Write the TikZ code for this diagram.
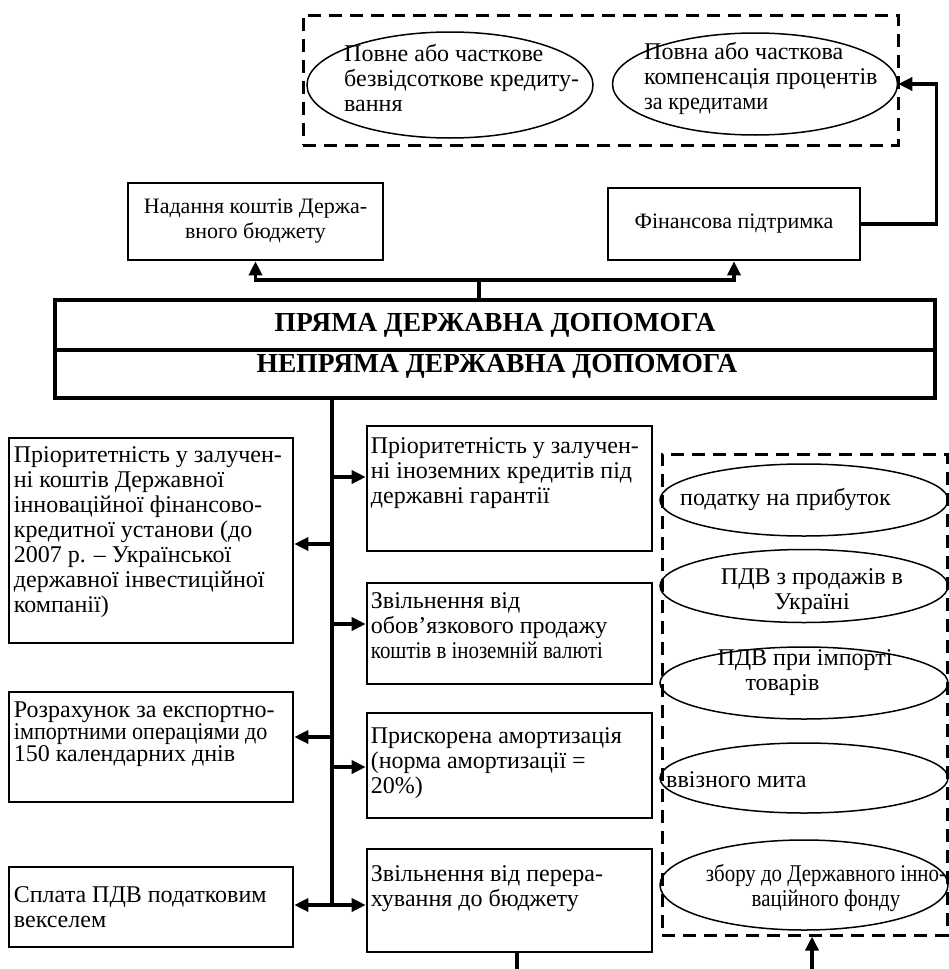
\documentclass[tikz,border=0pt]{standalone}
\usepackage{fontspec}
\setmainfont{Liberation Serif}
\usepackage{graphicx}
\usetikzlibrary{arrows.meta,shapes.geometric}
\newcommand{\cnd}[2][0.87]{\scalebox{#1}[1]{#2}}
\begin{document}
\begin{tikzpicture}[x=1pt,y=-1pt,
  box/.style={draw, line width=2.6pt, inner sep=0pt},
  grp/.style={draw, line width=3pt, dash pattern=on 13pt off 8pt},
  oval/.style={draw, ellipse, line width=1.5pt},
  txt/.style={align=left, inner sep=0pt, font=\fontsize{24}{25}\selectfont},
  hdr/.style={inner sep=0pt, font=\fontsize{27.5}{30}\selectfont\bfseries},
  conn/.style={line width=3.4pt},
  arr/.style={conn, -{Triangle[length=14pt,width=13pt]}},
  darr/.style={conn, {Triangle[length=14pt,width=13pt]}-{Triangle[length=14pt,width=13pt]}}]
  \useasboundingbox (0,0) rectangle (949,969);
  % forms of financial support
  \node[grp, minimum width=595pt, minimum height=130pt] (crgrp) at (600.5,80) {};
  \node[oval, minimum width=286pt, minimum height=106pt] (cred) at (450,85) {};
  \node[txt, anchor=west] (credt) at (344,78) {Повне або часткове\\безвідсоткове кредиту-\\вання};
  \node[oval, minimum width=285pt, minimum height=102pt] (comp) at (755,84) {};
  \node[txt, anchor=west] (compt) at (644,78) {Повна або часткова\\компенсація процентів\\\cnd[0.92]{за кредитами}};
  % direct support
  \node[box, txt, align=center, font=\fontsize{22}{25}\selectfont, minimum width=255pt, minimum height=77pt] (nad) at (255.5,221.5) {Надання коштів Держа-\\вного бюджету};
  \node[box, txt, align=center, font=\fontsize{22}{25}\selectfont, minimum width=252pt, minimum height=72pt] (fin) at (734,224) {Фінансова підтримка};
  % main block
  \node[box, hdr, line width=3.4pt, minimum width=880pt, minimum height=50pt] (pryama) at (495,325) {ПРЯМА ДЕРЖАВНА ДОПОМОГА};
  \node[box, line width=3.4pt, minimum width=880pt, minimum height=48pt] (nepryama) at (495,374) {};
  \node[hdr] (nepryamat) at (497,366) {НЕПРЯМА ДЕРЖАВНА ДОПОМОГА};
  % left column
  \node[box, minimum width=284pt, minimum height=205pt] (prior) at (151,540.5) {};
  \node[txt, anchor=north west] (priort) at ([shift={(6,10)}]prior.north west) {Пріоритетність у залучен-\\ні коштів Державної\\інноваційної фінансово-\\кредитної установи (до\\2007 р. – Української\\державної інвестиційної\\компанії)};
  \node[box, minimum width=284pt, minimum height=110pt] (rozr) at (151,747) {};
  \node[txt, anchor=north west, font=\fontsize{24}{22}\selectfont] (rozrt) at ([shift={(6,11)}]rozr.north west) {Розрахунок за експортно-\\\cnd[0.92]{імпортними операціями до}\\150 календарних днів};
  \node[box, minimum width=284pt, minimum height=80pt] (splata) at (151,907) {};
  \node[txt, anchor=west] (splatat) at ([xshift=6pt]splata.west) {Сплата ПДВ податковим\\векселем};
  % middle column
  \node[box, minimum width=285pt, minimum height=125pt] (inoz) at (509.5,488.5) {};
  \node[txt, anchor=north west] (inozt) at ([shift={(5,13)}]inoz.north west) {Пріоритетність у залучен-\\ні іноземних кредитів під\\державні гарантії};
  \node[box, minimum width=285pt, minimum height=101pt] (valut) at (509.5,633.5) {};
  \node[txt, anchor=north west] (valutt) at ([shift={(5,11)}]valut.north west) {Звільнення від\\обов’язкового продажу\\\cnd{коштів в іноземній валюті}};
  \node[box, minimum width=285pt, minimum height=105pt] (amort) at (509.5,765.5) {};
  \node[txt, anchor=north west] (amortt) at ([shift={(5,16)}]amort.north west) {Прискорена амортизація\\(норма амортизації =\\20\%)};
  \node[box, minimum width=285pt, minimum height=103pt] (perer) at (509.5,900.5) {};
  \node[txt, anchor=north west] (perert) at ([shift={(5,18)}]perer.north west) {Звільнення від перера-\\хування до бюджету};
  % right column: exemptions
  \node[grp, minimum width=285pt, minimum height=481pt] (taxgrp) at (804.5,694.5) {};
  \node[oval, minimum width=288pt, minimum height=72pt] (prib) at (804,500) {};
  \node[txt, anchor=west] (pribt) at (680,499) {податку на прибуток};
  \node[oval, minimum width=288pt, minimum height=73pt] (pdv) at (804,586) {};
  \node[txt, align=center] (pdvt) at (812,592) {ПДВ з продажів в\\Україні};
  \node[oval, minimum width=288pt, minimum height=72pt] (imp) at (804,683) {};
  \node[txt] (impt) at (805,673) {ПДВ при імпорті\\\hspace*{28pt}товарів};
  \node[oval, minimum width=288pt, minimum height=70pt] (mito) at (804,778) {};
  \node[txt, anchor=west] (mitot) at (666,780) {ввізного мита};
  \node[oval, minimum width=288pt, minimum height=90pt] (zbir) at (804,885) {};
  \node[txt, align=center] (zbirt) at (826,888) {\cnd{збору до Державного інно-}\\\cnd{ваційного фонду}};
  % connectors
  \coordinate (hub) at (479,280);
  \draw[conn] (pryama.north -| hub) -- (hub);
  \draw[arr] (hub) -| (nad);
  \draw[arr] (hub) -| (fin);
  \draw[arr] (fin.east) -- ++(75,0) |- (comp.east);
  \coordinate (j1) at (332,477);
  \coordinate (j2) at (332,624);
  \coordinate (j3) at (332,767);
  \coordinate (j4) at (332,905);
  \coordinate (k1) at (332,544);
  \coordinate (k2) at (332,737);
  \draw[conn] (nepryama.south -| j4) -- (j4);
  \draw[arr] (j1) -- (j1 -| inoz.west);
  \draw[arr] (j2) -- (j2 -| valut.west);
  \draw[arr] (j3) -- (j3 -| amort.west);
  \draw[arr] (k1) -- (k1 -| prior.east);
  \draw[arr] (k2) -- (k2 -| rozr.east);
  \draw[darr] (j4 -| splata.east) -- (j4 -| perer.west);
  \coordinate (out) at (517,969);
  \draw[conn] (perer.south -| out) -- (out);
  \coordinate (inp) at (812,969);
  \draw[arr] (inp) -- (inp |- taxgrp.south);
\end{tikzpicture}
\end{document}
